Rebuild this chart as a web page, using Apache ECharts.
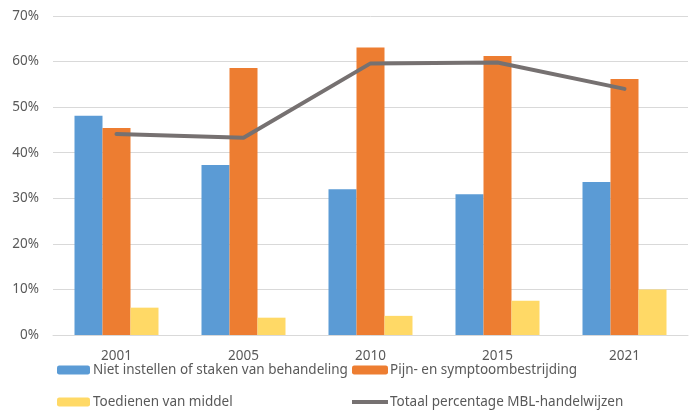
<!DOCTYPE html>
<html>
<head>
<meta charset="utf-8">
<script src="https://cdn.jsdelivr.net/npm/echarts@6/dist/echarts.min.js"></script>
<style>html,body{margin:0;padding:0;background:#fff}#c{width:695px;height:420px}</style>
</head>
<body>
<div id="c"></div>
<script>
const categories = ['2001', '2005', '2010', '2015', '2021'];
const nietInstellen = [48.1, 37.3, 32.0, 30.9, 33.6];
const pijnSymptoom = [45.4, 58.6, 63.1, 61.2, 56.2];
const toedienen = [6.0, 3.8, 4.2, 7.5, 10.0];
const totaal = [44.1, 43.3, 59.6, 59.8, 54.0];
const yTicks = [0, 10, 20, 30, 40, 50, 60, 70];

const names = ['Niet instellen of staken van behandeling', 'Pijn- en symptoombestrijding', 'Toedienen van middel', 'Totaal percentage MBL-handelwijzen'];
const font = 'Noto Sans';
const txt = '#595959';

const chart = echarts.init(document.getElementById('c'), null, {renderer: 'canvas'});
chart.setOption({
  animation: false,
  textStyle: {fontFamily: font},
  grid: {left: 53, right: 7, top: 16, bottom: 85, containLabel: false},
  legend: [
    {data: [names[0], names[2]], orient: 'vertical', left: 57, top: 363, padding: 0, itemWidth: 33, itemHeight: 9, itemGap: 18,
     textStyle: {fontFamily: font, fontSize: 13.5, color: txt, padding: [0, 0, 0, -2]}},
    {data: [names[1], {name: names[3], icon: 'path://M0,0 L36,0 L36,4 L0,4 Z'}], orient: 'vertical', left: 352, top: 363, padding: 0, itemWidth: 36, itemHeight: 9, itemGap: 18,
     textStyle: {fontFamily: font, fontSize: 13.5, color: txt, padding: [0, 0, 0, -3]}}
  ],
  xAxis: {
    type: 'category', data: categories,
    axisLine: {lineStyle: {color: '#d9d9d9', width: 1}},
    axisTick: {show: false},
    axisLabel: {color: txt, fontSize: 13.5, fontFamily: font, margin: 14}
  },
  yAxis: {
    type: 'value', min: 0, max: 70, interval: 10,
    axisLine: {show: false}, axisTick: {show: false},
    splitLine: {lineStyle: {color: '#d9d9d9', width: 1}},
    axisLabel: {color: txt, fontSize: 13.5, fontFamily: font, margin: 14,
      formatter: v => yTicks.includes(v) ? v + '%' : ''}
  },
  series: [
    {name: names[0], type: 'bar', data: nietInstellen, barWidth: 28, barGap: '0%', itemStyle: {color: '#5B9BD5'}},
    {name: names[1], type: 'bar', data: pijnSymptoom, barWidth: 28, barGap: '0%', itemStyle: {color: '#ED7D31'}},
    {name: names[2], type: 'bar', data: toedienen, barWidth: 28, barGap: '0%', itemStyle: {color: '#FFD966'}},
    {name: names[3], type: 'line', data: totaal, symbol: 'none', showSymbol: false,
     lineStyle: {color: '#767171', width: 4, cap: 'round'}, itemStyle: {color: '#767171'}, z: 5}
  ]
});
</script>
</body>
</html>
